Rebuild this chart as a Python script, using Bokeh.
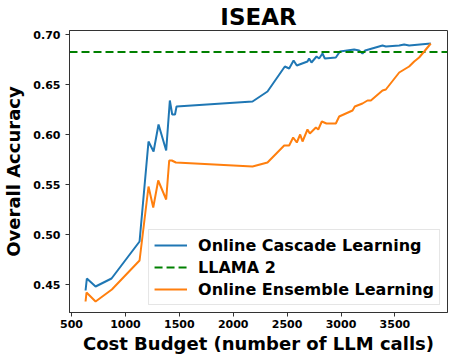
from bokeh.plotting import figure
from bokeh.models import FixedTicker, Legend, LegendItem, Range1d, CustomJSTickFormatter
from bokeh.embed import file_html
from bokeh.resources import INLINE

title = "ISEAR"
x_label = "Cost Budget (number of LLM calls)"
y_label = "Overall Accuracy"

cascade_x = [630, 642, 723, 871, 1131, 1214, 1261, 1307, 1378, 1412, 1434, 1460, 1474,
             2179, 2318, 2479, 2519, 2560, 2590, 2689, 2704, 2726, 2773, 2797, 2828, 2850,
             2952, 2990, 3122, 3168, 3199, 3224, 3385, 3416, 3540, 3586, 3632, 3833]
cascade_y = [0.444, 0.456, 0.448, 0.456, 0.493, 0.593, 0.583, 0.610, 0.584, 0.634, 0.620, 0.620, 0.628,
             0.633, 0.643, 0.668, 0.666, 0.674, 0.669, 0.673, 0.676, 0.672, 0.678, 0.676, 0.681, 0.676,
             0.677, 0.683, 0.685, 0.684, 0.681, 0.684, 0.689, 0.688, 0.689, 0.690, 0.689, 0.691]

ensemble_x = [630, 639, 723, 874, 1131, 1214, 1258, 1304, 1378, 1406, 1430, 1468,
              2179, 2318, 2473, 2519, 2556, 2590, 2621, 2643, 2689, 2711, 2767, 2789, 2822, 2865,
              2952, 2983, 3107, 3128, 3199, 3246, 3277, 3385, 3416, 3540, 3586, 3632, 3679, 3725, 3772, 3833]
ensemble_y = [0.433, 0.442, 0.433, 0.445, 0.474, 0.548, 0.527, 0.554, 0.535, 0.574, 0.574, 0.572,
              0.568, 0.572, 0.589, 0.589, 0.597, 0.592, 0.600, 0.593, 0.605, 0.601, 0.607, 0.605, 0.613, 0.611,
              0.611, 0.618, 0.624, 0.628, 0.631, 0.634, 0.634, 0.644, 0.645, 0.662, 0.665, 0.668, 0.673, 0.677, 0.683, 0.691]

llama_value = 0.6826

x_ticks = [500, 1000, 1500, 2000, 2500, 3000, 3500]
y_ticks = [0.45, 0.50, 0.55, 0.60, 0.65, 0.70]

FONT = "DejaVu Sans"

p = figure(frame_width=378, frame_height=282, output_backend="svg", toolbar_location=None,
           x_range=Range1d(481, 3988), y_range=Range1d(0.422, 0.704),
           min_border_left=0, min_border_right=2, min_border_top=0, min_border_bottom=0)

p.title.text = title
p.title.align = "center"
p.title.text_font = FONT
p.title.text_font_style = "bold"
p.title.text_font_size = "23px"
p.title.text_color = "black"
p.title.offset = 0
p.title.standoff = 2

p.xgrid.visible = False
p.ygrid.visible = False
p.outline_line_color = "#333333"
p.outline_line_width = 1

for ax in (p.xaxis[0], p.yaxis[0]):
    ax.axis_line_color = "#333333"
    ax.major_tick_line_color = "#333333"
    ax.major_tick_in = 0
    ax.major_tick_out = 4
    ax.minor_tick_line_color = None
    ax.major_label_text_font = FONT
    ax.major_label_text_font_style = "bold"
    ax.major_label_text_font_size = "11px"
    ax.major_label_text_color = "black"
    ax.axis_label_text_font = FONT
    ax.axis_label_text_font_style = "bold"
    ax.axis_label_text_font_size = "18px"
    ax.axis_label_text_color = "black"

p.xaxis.ticker = FixedTicker(ticks=x_ticks)
p.yaxis.ticker = FixedTicker(ticks=y_ticks)
p.yaxis.formatter = CustomJSTickFormatter(code="return tick.toFixed(2);")
p.xaxis.axis_label = x_label
p.yaxis.axis_label = y_label
p.xaxis.major_label_standoff = 3
p.yaxis.major_label_standoff = 5
p.xaxis.axis_label_standoff = 2
p.yaxis.axis_label_standoff = 6

r1 = p.line(cascade_x, cascade_y, line_color="#1f77b4", line_width=2)
r2 = p.line([481, 3988], [llama_value, llama_value], line_color="green", line_width=2, line_dash="8 4")
r3 = p.line(ensemble_x, ensemble_y, line_color="#ff7f0e", line_width=2)

legend = Legend(items=[LegendItem(label="Online Cascade Learning", renderers=[r1]),
                       LegendItem(label="LLAMA 2", renderers=[r2]),
                       LegendItem(label="Online Ensemble Learning", renderers=[r3])],
                location="bottom_right")
legend.label_text_font = FONT
legend.label_text_font_style = "bold"
legend.label_text_font_size = "16px"
legend.label_text_color = "black"
legend.label_standoff = 11
legend.glyph_width = 33
legend.glyph_height = 20
legend.label_height = 20
legend.spacing = 2
legend.padding = 5
legend.margin = 7
legend.border_line_color = "#cccccc"
legend.border_line_width = 1
legend.background_fill_alpha = 0.8
p.add_layout(legend)

open("out.html", "w").write(file_html(p, INLINE))
